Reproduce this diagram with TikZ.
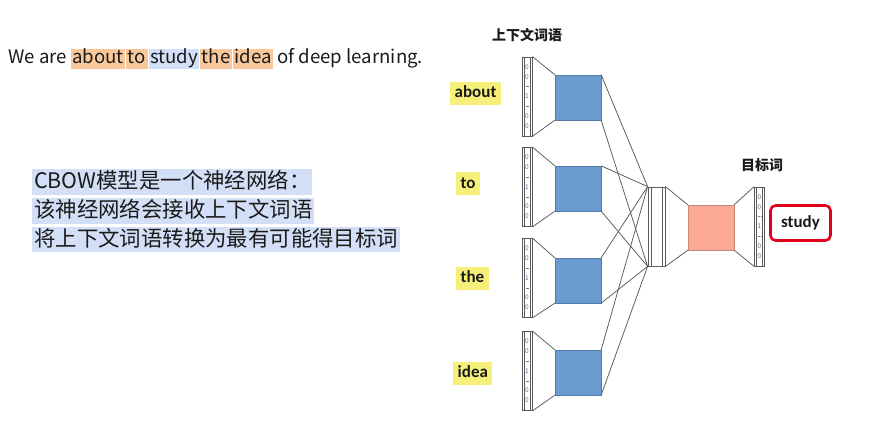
\documentclass[tikz,border=0pt]{standalone}
\usepackage{fontspec}
\setmainfont{Noto Sans CJK SC}
\newfontfamily\labfont{Carlito}
\usetikzlibrary{calc}
\definecolor{hlor}{HTML}{F9C89A}
\definecolor{hlbl}{HTML}{D3DFF6}
\definecolor{ylw}{HTML}{F6F07A}
\definecolor{bluebox}{HTML}{6A9BD1}
\definecolor{pinkbox}{HTML}{F9A996}
\definecolor{redb}{HTML}{E3001B}
\definecolor{ln}{HTML}{5A5A5A}
\definecolor{dig}{HTML}{7A7A7A}
\definecolor{digone}{HTML}{4A70A8}
\definecolor{txt}{HTML}{1A1A1A}
\newcommand\hlword[2]{{\setlength\fboxsep{0pt}\colorbox{#1}{\rule[-5pt]{0pt}{20pt}\hspace{1.5pt}#2\hspace{1.5pt}}}}
\tikzset{
  conn/.style={draw=ln, line width=0.75pt},
  vecbox/.style={draw=ln, line width=0.8pt, minimum width=10pt, minimum height=79pt, inner sep=0pt,
    path picture={
      \draw[ln, line width=0.4pt] ([xshift=2pt]path picture bounding box.north west) -- ([xshift=2pt]path picture bounding box.south west);
      \draw[ln, line width=0.4pt] ([xshift=-2pt]path picture bounding box.north east) -- ([xshift=-2pt]path picture bounding box.south east);
    }},
  hidbox/.style={draw=ln, line width=0.8pt, minimum width=17pt, minimum height=79pt, inner sep=0pt,
    path picture={
      \draw[ln, line width=0.5pt] ([xshift=3pt]path picture bounding box.north west) -- ([xshift=3pt]path picture bounding box.south west);
      \draw[ln, line width=0.5pt] ([xshift=-3pt]path picture bounding box.north east) -- ([xshift=-3pt]path picture bounding box.south east);
    }},
  emb/.style={fill=bluebox, draw=bluebox!80!black, line width=0.3pt, minimum width=46pt, minimum height=45pt, inner sep=0pt},
  outemb/.style={fill=pinkbox, draw=pinkbox!80!black, line width=0.3pt, minimum width=46pt, minimum height=45pt, inner sep=0pt},
  digit/.style={inner sep=0pt, font=\fontsize{6.5}{6.5}\selectfont, text=dig},
  wlabel/.style={fill=ylw, anchor=west, inner xsep=4.5pt, inner ysep=4pt, text height=12pt, text depth=3pt,
    font=\labfont\bfseries\fontsize{17}{19}\selectfont, text=txt},
  cnline/.style={fill=hlbl, anchor=west, inner xsep=2pt, inner ysep=1.5pt, text height=18pt, text depth=4.5pt,
    font=\fontsize{21.4}{25}\selectfont, text=txt},
  ttl/.style={inner sep=0pt, font=\bfseries\fontsize{14}{16}\selectfont, text=txt},
}
\newcommand\onehot[3]{%
  \node[vecbox] (#1) at (#2,#3) {};
  \node[digit] (#1d1) at ($(#1.center)+(0,-29.5)$) {0};
  \node[digit] (#1d2) at ($(#1.center)+(0,-19.5)$) {0};
  \node[digit, text=digone] (#1d3) at ($(#1.center)+(0,0)$) {1};
  \node[digit] (#1d4) at ($(#1.center)+(0,19.5)$) {0};
  \node[digit] (#1d5) at ($(#1.center)+(0,29.5)$) {0};
  \draw[dig, line width=0.4pt, densely dotted] ($(#1.center)+(-1.5,-10)$) -- ($(#1.center)+(1.5,-10)$);
  \draw[dig, line width=0.4pt, densely dotted] ($(#1.center)+(-1.5,10)$) -- ($(#1.center)+(1.5,10)$);
}
\begin{document}
\begin{tikzpicture}[x=1pt,y=-1pt]
\useasboundingbox (0,0) rectangle (890,430);
\fill[white] (0,0) rectangle (890,430);

% sentence
\node[anchor=base west, inner sep=0pt, text=txt, font=\fontsize{18.6}{21}\selectfont] (sent) at (8,64)
  {We are \hlword{hlor}{about}\hspace{1pt}\hlword{hlor}{to}\hspace{1pt}\hlword{hlbl}{study}\hspace{1pt}\hlword{hlor}{the}\hspace{1pt}\hlword{hlor}{idea} of deep learning.};

% chinese description
\node[cnline] (c1) at (32,182) {CBOW模型是一个神经网络：};
\node[cnline] (c2) at (32,211) {该神经网络会接收上下文词语};
\node[cnline] (c3) at (32,239.5) {将上下文词语转换为最有可能得目标词};

% titles
\node[ttl] (t1) at (527,35) {上下文词语};
\node[ttl] (t2) at (762,165) {目标词};

% word labels
\node[wlabel] (w1) at (450,93.5) {about};
\node[wlabel] (w2) at (456,184) {to};
\node[wlabel] (w3) at (456,278) {the};
\node[wlabel] (w4) at (453,373) {idea};

% one-hot input vectors
\onehot{v1}{527}{96.5}
\onehot{v2}{527}{187}
\onehot{v3}{527}{278}
\onehot{v4}{527}{371}

% embedding boxes
\node[emb] (b1) at (578,97.5) {};
\node[emb] (b2) at (578,188.5) {};
\node[emb] (b3) at (578,280.5) {};
\node[emb] (b4) at (578,372.5) {};

% hidden layer
\node[hidbox] (h) at (656.5,226.5) {};
\node[outemb] (p) at (711,227.5) {};
\onehot{o}{759.5}{226.5}

% study
\node[draw=redb, line width=2.6pt, rounded corners=5pt, fill=white, minimum width=60pt, minimum height=35pt,
  inner sep=0pt, text=txt, font=\labfont\bfseries\fontsize{17}{19}\selectfont] (s) at (800.5,223) {study};

% connectors
\foreach \i in {1,2,3,4}{
  \draw[conn] (v\i.north east) -- (b\i.north west);
  \draw[conn] (v\i.south east) -- (b\i.south west);
  \draw[conn] (b\i.north east) -- (h.north west);
  \draw[conn] (b\i.south east) -- (h.south west);
}
\draw[conn] (h.north east) -- (p.north west);
\draw[conn] (h.south east) -- (p.south west);
\draw[conn] (p.north east) -- (o.north west);
\draw[conn] (p.south east) -- (o.south west);
\end{tikzpicture}
\end{document}
